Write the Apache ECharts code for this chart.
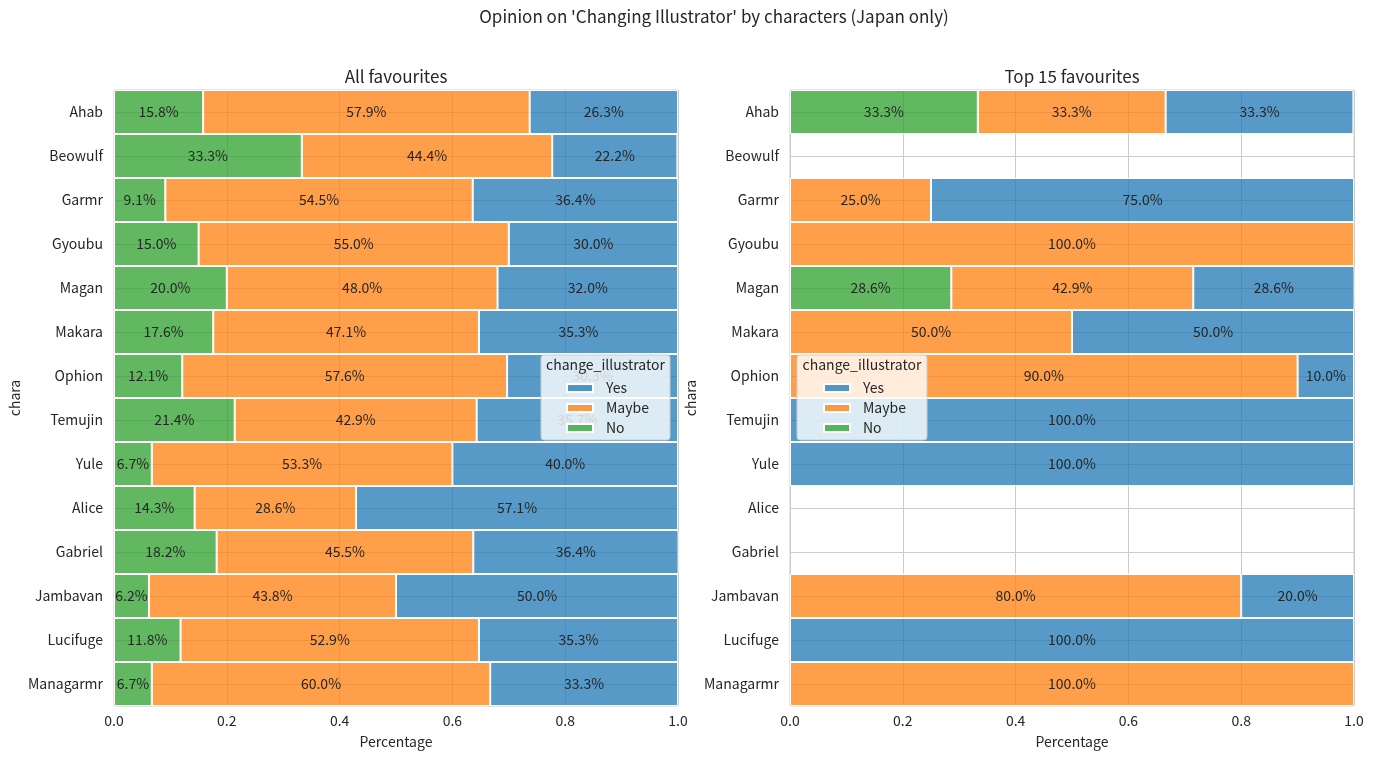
<!DOCTYPE html>
<html><head><meta charset="utf-8">
<script src="https://cdn.jsdelivr.net/npm/echarts@6/dist/echarts.min.js"></script>
<style>html,body{margin:0;padding:0;background:#fff;}#c{width:1373px;height:759px;}</style>
</head><body><div id="c"></div>
<script>
const categories = ['Ahab','Beowulf','Garmr','Gyoubu','Magan','Makara','Ophion','Temujin','Yule','Alice','Gabriel','Jambavan','Lucifuge','Managarmr'];
// All favourites (percent)
const allNo    = [15.8, 33.3, 9.1, 15.0, 20.0, 17.6, 12.1, 21.4, 6.7, 14.3, 18.2, 6.2, 11.8, 6.7];
const allMaybe = [57.9, 44.4, 54.5, 55.0, 48.0, 47.1, 57.6, 42.9, 53.3, 28.6, 45.5, 43.8, 52.9, 60.0];
const allYes   = [26.3, 22.2, 36.4, 30.0, 32.0, 35.3, 30.3, 35.7, 40.0, 57.1, 36.4, 50.0, 35.3, 33.3];
// Top 15 favourites (percent)
const topNo    = [33.3, null, null, null, 28.6, null, null, null, null, null, null, null, null, null];
const topMaybe = [33.3, null, 25.0, 100.0, 42.9, 50.0, 90.0, null, null, null, null, 80.0, null, 100.0];
const topYes   = [33.3, null, 75.0, null, 28.6, 50.0, 10.0, 100.0, 100.0, null, null, 20.0, 100.0, null];
const xTicks = ['0.0','0.2','0.4','0.6','0.8','1.0'];

const FONT = '"Noto Sans CJK JP","Noto Sans",sans-serif';
const TXT = '#262626';
const COLORS = {Yes:'rgba(31,119,180,0.75)', Maybe:'rgba(255,127,14,0.75)', No:'rgba(44,160,44,0.75)'};

const grids = [
  {left:114, top:90, width:564, height:616, show:true, borderColor:'#cccccc', borderWidth:1, backgroundColor:'transparent'},
  {left:790, top:90, width:564, height:616, show:true, borderColor:'#cccccc', borderWidth:1, backgroundColor:'transparent'}
];
function xAxis(i){
  return {type:'value', gridIndex:i, min:0, max:1, interval:0.2,
    name:'Percentage', nameLocation:'middle', nameGap:29,
    nameTextStyle:{fontFamily:FONT, fontSize:14, color:TXT},
    axisLine:{show:false}, axisTick:{show:false},
    axisLabel:{fontFamily:FONT, fontSize:14, color:TXT, margin:8,
      formatter:(v)=>xTicks[Math.round(v/0.2)]},
    splitLine:{show:true, lineStyle:{color:'#cccccc', width:1}}};
}
function yAxis(i){
  return {type:'category', gridIndex:i, data:categories, inverse:true,
    name:'chara', nameLocation:'middle', nameGap:92, nameRotate:90,
    nameTextStyle:{fontFamily:FONT, fontSize:14, color:TXT},
    axisLine:{show:false}, axisTick:{show:false},
    axisLabel:{fontFamily:FONT, fontSize:14, color:TXT, margin:11},
    splitLine:{show:false}};
}
function toFrac(arr){ return arr.map(v => v==null ? null : v/100); }
function barSeries(name, arr, i){
  return {type:'bar', name:name, xAxisIndex:i, yAxisIndex:i, stack:'s'+i,
    data:toFrac(arr), barWidth:'100%', barCategoryGap:0, z:3,
    itemStyle:{color:COLORS[name], borderColor:'#ffffff', borderWidth:1},
    label:{show:true, position:'inside', fontFamily:FONT, fontSize:14, color:TXT,
      formatter:(p)=> (p.value*100).toFixed(1)+'%'},
    emphasis:{disabled:true}};
}
function gridLineSeries(i){
  return {type:'line', name:'_grid'+i, xAxisIndex:i, yAxisIndex:i, data:[], z:1, silent:true,
    markLine:{silent:true, z:1, symbol:['none','none'], label:{show:false},
      lineStyle:{color:'#cccccc', width:1, type:'solid'},
      emphasis:{disabled:true},
      data:categories.map(c=>({yAxis:c}))}};
}
function legendBox(x, y, w, h){
  return [
    {type:'rect', x:x, y:y, z:10, shape:{width:w, height:h, r:3},
      style:{fill:'rgba(255,255,255,0.8)', stroke:'#cccccc', lineWidth:1}},
    {type:'text', x:x+w/2, y:y+3, z:11, style:{text:'change_illustrator', font:'14px '+FONT, fill:TXT, textAlign:'center', textVerticalAlign:'top'}}
  ];
}
function legend(x, y){
  return {orient:'vertical', left:x, top:y, z:12, padding:0, data:['Yes','Maybe','No'], icon:'rect',
    itemWidth:26, itemHeight:8, itemGap:6, selectedMode:false,
    textStyle:{fontFamily:FONT, fontSize:14, color:TXT, padding:[0,0,0,8]}};
}

const chart = echarts.init(document.getElementById('c'), null, {renderer:'canvas'});
chart.setOption({
  animation:false,
  backgroundColor:'#ffffff',
  title:[
    {text:"Opinion on 'Changing Illustrator' by characters (Japan only)", left:709, textAlign:'center', top:3,
      textStyle:{fontFamily:FONT, fontSize:17, fontWeight:'normal', color:TXT}},
    {text:'All favourites', left:391, textAlign:'center', top:63,
      textStyle:{fontFamily:FONT, fontSize:17, fontWeight:'normal', color:TXT}},
    {text:'Top 15 favourites', left:1067, textAlign:'center', top:63,
      textStyle:{fontFamily:FONT, fontSize:17, fontWeight:'normal', color:TXT}}
  ],
  grid:grids,
  xAxis:[xAxis(0), xAxis(1)],
  yAxis:[yAxis(0), yAxis(1)],
  legend:[legend(566, 381), legend(823, 381)],
  graphic:[].concat(legendBox(541, 355, 129, 85), legendBox(797, 355, 130, 85)),
  series:[
    gridLineSeries(0), gridLineSeries(1),
    barSeries('No', allNo, 0), barSeries('Maybe', allMaybe, 0), barSeries('Yes', allYes, 0),
    barSeries('No', topNo, 1), barSeries('Maybe', topMaybe, 1), barSeries('Yes', topYes, 1)
  ]
});
</script></body></html>
